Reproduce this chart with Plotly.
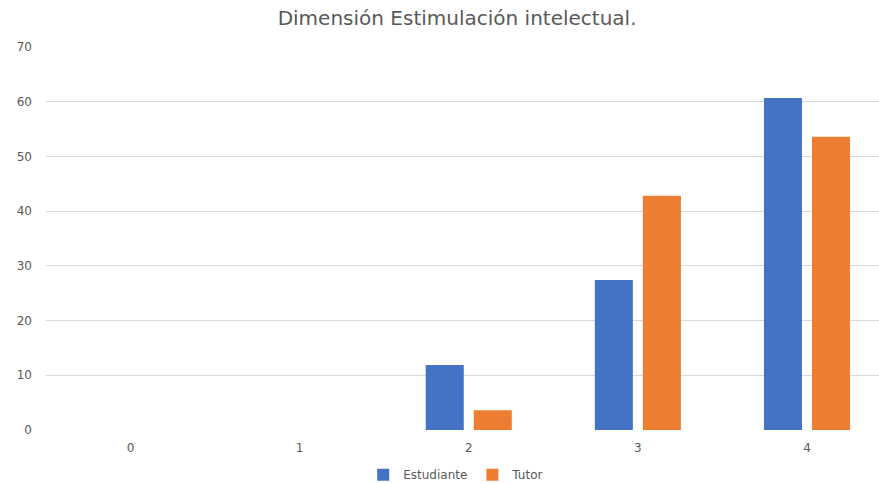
import plotly.graph_objects as go

# Datos del gráfico
categorias = [0, 1, 2, 3, 4]
estudiante = [0, 0, 11.9, 27.4, 60.7]
tutor = [0, 0, 3.6, 42.8, 53.6]

AZUL = "#4472C4"
NARANJA = "#ED7D31"
GRIS_TEXTO = "#595959"
GRIS_REJILLA = "#D9D9D9"
FUENTE = "DejaVu Sans, Liberation Sans, sans-serif"

fig = go.Figure()
fig.add_trace(go.Bar(x=categorias, y=estudiante, name="Estudiante",
                     marker=dict(color=AZUL, line=dict(width=0))))
fig.add_trace(go.Bar(x=categorias, y=tutor, name="Tutor",
                     marker=dict(color=NARANJA, line=dict(width=0))))

fig.update_layout(
    width=879, height=483,
    margin=dict(l=46, r=0, t=47, b=53),
    paper_bgcolor="white", plot_bgcolor="white",
    barmode="group", bargap=0.432, bargroupgap=0.208,
    font=dict(family=FUENTE, color=GRIS_TEXTO, size=12),
    title=dict(text="Dimensión Estimulación intelectual.",
               x=0.52, xanchor="center", y=0.963, yanchor="middle",
               font=dict(family=FUENTE, size=20, color=GRIS_TEXTO)),
    legend=dict(orientation="h", xref="container", yref="container",
                x=0.519, xanchor="center", y=0.017, yanchor="middle",
                font=dict(family=FUENTE, size=12, color=GRIS_TEXTO),
                itemwidth=30, traceorder="normal"),
    showlegend=True,
)

fig.update_xaxes(
    tickmode="array", tickvals=categorias, ticktext=[str(c) for c in categorias],
    range=[-0.5, 4.426], showgrid=False, zeroline=False, showline=False,
    ticks="", ticklabelstandoff=9, tickfont=dict(family=FUENTE, size=12, color=GRIS_TEXTO),
)
fig.update_yaxes(
    range=[0, 70], dtick=10, showgrid=True, gridcolor=GRIS_REJILLA, gridwidth=1,
    zeroline=False, showline=False, ticks="", ticklabelstandoff=13,
    tickfont=dict(family=FUENTE, size=12, color=GRIS_TEXTO),
)

fig.write_html("out.html")
